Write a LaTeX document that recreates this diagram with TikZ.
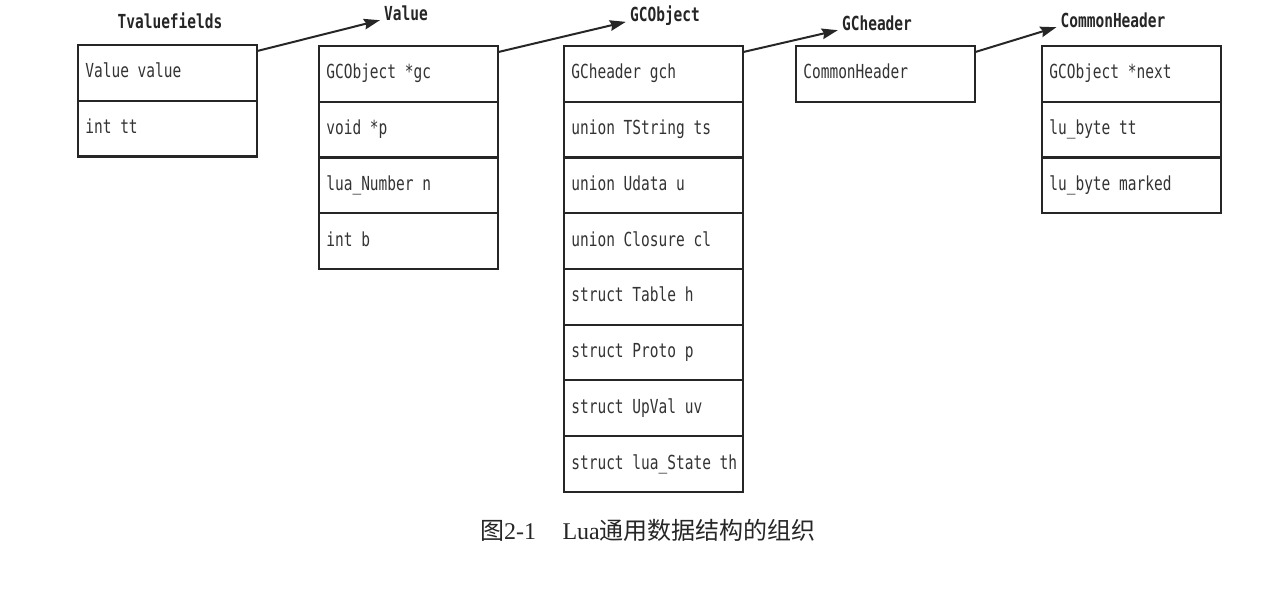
\documentclass[tikz,border=0pt]{standalone}
\usepackage{fontspec}
\setmainfont{Liberation Serif}
\newfontfamily\monof[FakeStretch=0.75]{DejaVu Sans Mono}
\newfontfamily\cjk{Noto Sans CJK SC}
\newcommand\fieldfont{\monof\fontsize{14.5}{17}\selectfont}
\newcommand\titlefont{\monof\bfseries\fontsize{14.5}{17}\selectfont}
\newcommand\fixspace{\spaceskip=\fontcharwd\font`\x\relax}
\usetikzlibrary{positioning,arrows.meta}

\begin{document}
\begin{tikzpicture}
  [x=0.75pt,y=-0.75pt,
   field/.style={draw=black!85,line width=1.6pt,rectangle,outer sep=0pt,
     minimum width=134.5pt,minimum height=41.8pt,text width=123.5pt,
     inner xsep=5.5pt,text height=10.5pt,text depth=3pt,
     text=black!80,font=\fieldfont,execute at begin node=\fixspace},
   title/.style={text=black!85,inner sep=3pt,font=\titlefont},
   ptr/.style={draw=black!85,line width=1.5pt,
     -{Stealth[length=12pt,width=8pt,inset=1.5pt]}}]
  \useasboundingbox (0,0) rectangle (1268,604);

  % titles
  \node[title] (tt) at (170,21) {Tvaluefields};
  \node[title] (tv) at (406,13) {Value};
  \node[title] (tg) at (665,16) {GCObject};
  \node[title] (th) at (877,23) {GCheader};
  \node[title] (tc) at (1113,20) {CommonHeader};

  % Tvaluefields
  \node[field,anchor=north west] (t1) at (78,45) {Value value};
  \node[field,below=0pt of t1] (t2) {int tt};

  % Value
  \node[field,anchor=north west] (v1) at (319,46) {GCObject *gc};
  \node[field,below=0pt of v1] (v2) {void *p};
  \node[field,below=0pt of v2] (v3) {lua\_Number n};
  \node[field,below=0pt of v3] (v4) {int b};

  % GCObject
  \node[field,anchor=north west] (g1) at (564,46) {GCheader gch};
  \node[field,below=0pt of g1] (g2) {union TString ts};
  \node[field,below=0pt of g2] (g3) {union Udata u};
  \node[field,below=0pt of g3] (g4) {union Closure cl};
  \node[field,below=0pt of g4] (g5) {struct Table h};
  \node[field,below=0pt of g5] (g6) {struct Proto p};
  \node[field,below=0pt of g6] (g7) {struct UpVal uv};
  \node[field,below=0pt of g7] (g8) {\mbox{struct lua\_State th}};

  % GCheader
  \node[field,anchor=north west] (h1) at (796,46) {CommonHeader};

  % CommonHeader
  \node[field,anchor=north west] (c1) at (1042,46) {GCObject *next};
  \node[field,below=0pt of c1] (c2) {lu\_byte tt};
  \node[field,below=0pt of c2] (c3) {lu\_byte marked};

  \foreach \from/\to in {t1/tv,v1/tg,g1/th,h1/tc}
    \draw[ptr] ([yshift=-4.5pt]\from.north east) -- (\to.base west);

  \node[font=\fontsize{18}{22}\selectfont,text=black!85] (cap) at (648,530)
    {{\cjk 图}2-1\hspace{1.1em}Lua{\cjk 通用数据结构的组织}};
\end{tikzpicture}
\end{document}
